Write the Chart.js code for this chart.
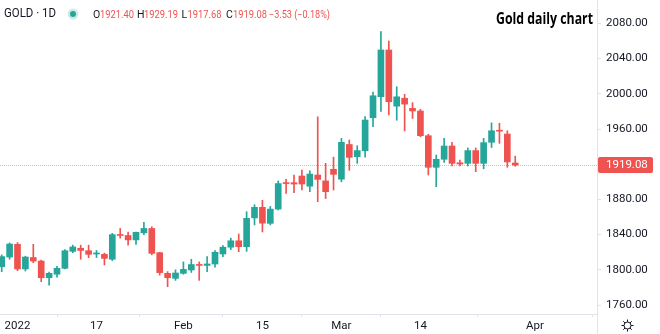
<!DOCTYPE html>
<html>
<head>
<meta charset="utf-8">
<style>
  html, body { margin: 0; padding: 0; background: #ffffff; }
  #wrap { width: 660px; height: 334px; position: relative; }
</style>
<script src="https://cdn.jsdelivr.net/npm/chart.js@4/dist/chart.umd.min.js"></script>
</head>
<body>
<div id="wrap"><canvas id="chart" width="660" height="334"></canvas></div>
<script>
// Daily OHLC sessions, late Dec 2021 to end of Mar 2022
const opens = [1803.5,1814.5,1829,1801,1814,1810,1791,1795,1801.7,1821,
  1824.5,1821.7,1818,1817.6,1812,1840,1839,1834,1842,1847,
  1819.5,1796,1790.3,1796,1799.8,1806,1805,1806.6,1818,1825.7,
  1833,1826.3,1859,1871,1852.8,1869,1898.5,1899,1906.6,1895,
  1907.7,1901,1914.2,1903,1942.4,1928.6,1935.3,1972.8,1996.7,2049.8,
  1986,1995,1983.5,1980.5,1952.4,1916.5,1925.6,1940.7,1921.7,1921,
  1935.5,1921,1944.9,1958.5,1954.3,1921.40];
const highs = [1817,1830.5,1831,1815.5,1829,1811,1797.5,1804,1823,1828,
  1828,1828,1822,1819,1841.5,1847,1843,1843,1854,1849,
  1820,1798,1800,1809,1812,1809,1815,1822,1827.5,1836,
  1840.7,1866,1874,1879,1872,1901,1902.8,1907.7,1913.4,1912.6,
  1973.9,1921,1928,1949.4,1947.5,1941,1974,2002,2070.6,2060,
  2008,1999.4,1990,1982.4,1954,1930.5,1949.4,1945,1924.8,1938.5,
  1938.5,1949.4,1967,1966.5,1958,1929.19];
const lows = [1797.8,1812,1799,1798.6,1808,1786.5,1782.7,1791.6,1801,1819.5,
  1812,1813.8,1814,1805.5,1810.5,1836,1828,1829,1840,1817,
  1794,1780.8,1788,1795,1797,1788,1798,1803,1815,1823,
  1820.6,1821,1851,1843,1851,1868,1886.9,1887.6,1890.7,1888.8,
  1877.4,1881,1890.7,1900,1913,1921,1928,1962.6,1980,1976,
  1970,1957.7,1972,1951.2,1907.7,1894.5,1922,1918,1918,1918,
  1911.5,1914.8,1939,1943.7,1916.5,1917.68];
const closes = [1815,1829.3,1801,1814.5,1810,1791,1796,1801.7,1821.7,1826,
  1822,1817.6,1819,1813,1840,1839,1834,1842.6,1847,1818.7,
  1796.8,1791,1796.4,1800.5,1806,1805,1806.7,1820,1825.7,1833,
  1826.3,1858.5,1871,1853,1869,1898,1898,1897.5,1897.5,1908.8,
  1902.8,1888.8,1908.5,1944.9,1927.8,1935.5,1970.2,1997.8,2049.8,1991,
  1996.6,1988.3,1980.5,1952.4,1916.5,1925.6,1940.7,1921,1920.2,1935.5,
  1921,1944.5,1958,1957.5,1922.61,1919.08];

// Time-axis labels and the session slot each one sits on
const timeTickLabels = ['2022', '17', 'Feb', '15', 'Mar', '14', 'Apr'];
const timeTickSlots = [2, 12, 23, 33, 43, 53, 67.5];

// Price-axis ticks (1920 is covered by the last-price tag)
const priceTicks = [1760, 1800, 1840, 1880, 1960, 2000, 2040, 2080];

const UP = '#26a69a';
const DOWN = '#ef5350';
const TEXT = '#131722';
const LINE = '#e0e3eb';

const idx = opens.map((_, i) => i);
const colors = idx.map(i => closes[i] >= opens[i] ? UP : DOWN);
const last = opens.length - 1;

const fmt = v => v.toFixed(2);
const minus = s => s.replace('-', '\u2212');

const overlay = {
  id: 'overlay',
  beforeDatasetsDraw(chart) {
    const { ctx, chartArea, scales: { y } } = chart;
    const py = Math.round(y.getPixelForValue(closes[last])) + 0.5;
    ctx.save();
    ctx.strokeStyle = 'rgba(239,83,80,0.45)';
    ctx.lineWidth = 1;
    ctx.setLineDash([1, 1]);
    ctx.beginPath();
    ctx.moveTo(chartArea.left, py);
    ctx.lineTo(chartArea.right, py);
    ctx.stroke();
    ctx.restore();
  },
  afterDraw(chart) {
    const { ctx, chartArea, scales: { y } } = chart;
    ctx.save();

    // separator between plot and price axis
    ctx.strokeStyle = LINE;
    ctx.lineWidth = 1;
    ctx.beginPath();
    ctx.moveTo(chartArea.right + 0.5, 0);
    ctx.lineTo(chartArea.right + 0.5, chart.height);
    ctx.stroke();

    // last price tag
    const py = y.getPixelForValue(closes[last]);
    ctx.fillStyle = DOWN;
    const bx = chartArea.right + 1, bw = 55, bh = 16;
    ctx.beginPath();
    if (ctx.roundRect) ctx.roundRect(bx, py - bh / 2, bw, bh, 2); else ctx.rect(bx, py - bh / 2, bw, bh);
    ctx.fill();
    ctx.fillStyle = '#ffffff';
    ctx.font = '11.5px Roboto, "Open Sans", sans-serif';
    ctx.textBaseline = 'middle';
    ctx.textAlign = 'left';
    ctx.fillText(fmt(closes[last]), chartArea.right + 9, py + 0.5);

    // symbol line
    ctx.fillStyle = TEXT;
    ctx.font = '12px Roboto, "Open Sans", sans-serif';
    ctx.fillText('GOLD \u00b7 1D', 4, 14, 52);
    ctx.fillStyle = 'rgba(38,166,154,0.22)';
    ctx.beginPath(); ctx.arc(73, 14, 5.5, 0, Math.PI * 2); ctx.fill();
    ctx.fillStyle = UP;
    ctx.beginPath(); ctx.arc(73, 14, 3, 0, Math.PI * 2); ctx.fill();

    const change = closes[last] - closes[last - 1];
    const pct = change / closes[last - 1] * 100;
    ctx.font = '10.5px Roboto, "Open Sans", sans-serif';
    const parts = [
      ['O', 93, fmt(opens[last]), 100],
      ['H', 137, fmt(highs[last]), 144],
      ['L', 181.5, fmt(lows[last]), 187.5],
      ['C', 226, fmt(closes[last]), 233]
    ];
    parts.forEach(([k, kx, v, vx]) => {
      ctx.fillStyle = TEXT;
      ctx.fillText(k, kx, 15);
      ctx.fillStyle = DOWN;
      ctx.fillText(v, vx, 15, 34);
    });
    ctx.fillStyle = DOWN;
    ctx.fillText(minus(fmt(change)) + ' (' + minus(pct.toFixed(2)) + '%)', 269, 15, 61);

    // chart title
    ctx.fillStyle = '#000000';
    ctx.font = '700 16.5px "Open Sans", sans-serif';
    ctx.textBaseline = 'alphabetic';
    ctx.fillText('Gold daily chart', 496, 24, 97);

    // settings gear
    const gx = 627.5, gy = 325.5;
    ctx.strokeStyle = TEXT;
    ctx.lineWidth = 1;
    ctx.beginPath(); ctx.arc(gx, gy, 3.5, 0, Math.PI * 2); ctx.stroke();
    for (let k = 0; k < 8; k++) {
      const a = k * Math.PI / 4;
      ctx.beginPath();
      ctx.moveTo(gx + Math.cos(a) * 3.5, gy + Math.sin(a) * 3.5);
      ctx.lineTo(gx + Math.cos(a) * 6, gy + Math.sin(a) * 6);
      ctx.stroke();
    }
    ctx.restore();
  }
};

new Chart(document.getElementById('chart'), {
  type: 'bar',
  data: {
    datasets: [
      {
        label: 'wick',
        data: idx.map(i => ({ x: i, y: [lows[i], highs[i]] })),
        backgroundColor: colors,
        barThickness: 1,
        grouped: false,
        borderWidth: 0,
        order: 2
      },
      {
        label: 'body',
        data: idx.map(i => ({ x: i, y: [opens[i], closes[i]] })),
        backgroundColor: colors,
        barThickness: 6,
        minBarLength: 1,
        grouped: false,
        borderWidth: 0,
        order: 1
      }
    ]
  },
  options: {
    responsive: false,
    animation: false,
    devicePixelRatio: 1,
    layout: { padding: 0 },
    plugins: { legend: { display: false }, tooltip: { enabled: false }, title: { display: false } },
    scales: {
      x: {
        type: 'linear',
        offset: false,
        min: -0.215,
        max: 75.35,
        afterBuildTicks: s => { s.ticks = timeTickSlots.map(v => ({ value: v })); },
        afterFit: s => { s.height = 20; s.paddingLeft = 0; s.paddingRight = 0; },
        ticks: {
          autoSkip: false,
          maxRotation: 0,
          padding: 2,
          color: TEXT,
          font: { family: 'Roboto, "Open Sans", sans-serif', size: 11.5 },
          callback: (v, i) => timeTickLabels[i]
        },
        grid: { drawOnChartArea: false, drawTicks: true, tickLength: 3, color: LINE },
        border: { color: LINE }
      },
      y: {
        type: 'linear',
        position: 'right',
        min: 1749.8,
        max: 2106.6,
        afterBuildTicks: s => { s.ticks = priceTicks.map(v => ({ value: v })); },
        afterFit: s => { s.width = 63; s.paddingTop = 0; s.paddingBottom = 0; },
        ticks: {
          padding: 5,
          color: TEXT,
          font: { family: 'Roboto, "Open Sans", sans-serif', size: 11.5 },
          callback: v => fmt(v)
        },
        grid: { drawOnChartArea: false, drawTicks: true, tickLength: 4, color: LINE },
        border: { color: LINE }
      }
    }
  },
  plugins: [overlay]
});
</script>
</body>
</html>
